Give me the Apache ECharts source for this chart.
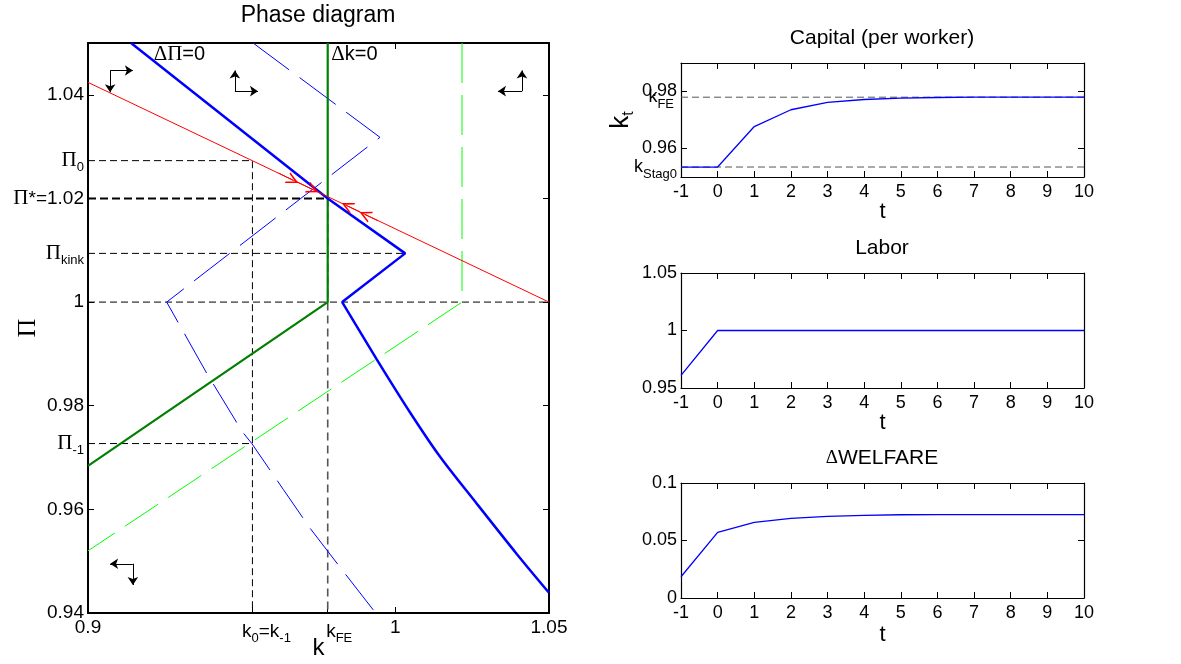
<!DOCTYPE html>
<html>
<head>
<meta charset="utf-8">
<script src="https://cdn.jsdelivr.net/npm/echarts@6/dist/echarts.min.js"></script>
<style>
  html, body { margin: 0; background: #fff; }
  #main { width: 1181px; height: 664px; }
</style>
</head>
<body>
<div id="main"></div>
<script>
// ---- phase diagram data (k, Pi) ----
const kFE = 0.978
const k0 = 0.9535
const pi0 = 1.0273
const piStar = 1.02
const piKink = 1.0094
const piM1 = 0.9727

// Delta Pi = 0: straight kinked part, then the curved lower branch
const dPiZeroUpper = [[0.914, 1.05], [0.978, 1.02], [1.0032, 1.0094], [0.9827, 1.0]]
const dPiZeroLower = [[0.9827, 1.0], [0.9939, 0.989], [1.0048, 0.9787], [1.0145, 0.9702], [1.0265, 0.9611], [1.0395, 0.9514], [1.05, 0.9439]]
const dPiZeroOld = [[0.9537, 1.05], [0.995, 1.0318], [0.9256, 1.0], [0.9386, 0.9863], [0.9502, 0.975], [0.9533, 0.9727],
  [0.9636, 0.9638], [0.9722, 0.9564], [0.9831, 0.948], [0.9936, 0.94]]
const dkZero = [[0.978, 1.05], [0.978, 1.0], [0.9, 0.9684]]
const dkZeroOld = [[1.0217, 1.05], [1.0217, 1.0], [0.9, 0.952]]
const saddle = [[0.9, 1.0424], [1.05, 1.0]]
const saddleArrows = [
  [[0.962, 1.0249], [0.9667, 1.0235]],
  [[0.968, 1.0232], [0.9732, 1.0217]],
  [[0.9885, 1.0174], [0.9843, 1.0186]],
  [[0.9943, 1.0157], [0.9901, 1.0169]],
]
const dirArrows = [
  [[0.9072, 1.0447], [0.9146, 1.0447]], [[0.9072, 1.0447], [0.9072, 1.0405]],
  [[0.9478, 1.0407], [0.9478, 1.0447]], [[0.9478, 1.0407], [0.9553, 1.0407]],
  [[1.0412, 1.0407], [1.0412, 1.0447]], [[1.0412, 1.0407], [1.0334, 1.0407]],
  [[0.9146, 0.9495], [0.9072, 0.9495]], [[0.9146, 0.9495], [0.9146, 0.9454]],
]
const curveNotes = [
  { name: '{d|Δ}{d|Π}=0', value: [0.9212, 1.0478] },
  { name: '{d|Δ}k=0', value: [0.979, 1.0478] },
]
const piTickVals = [0.94, 0.96, piM1, 0.98, 1, piKink, 1.02, pi0, 1.04]
const piTickText = ['0.94', '0.96', '{p|Π}{s|-1}', '0.98', '1', '{p|Π}{s|kink}', '{p|Π}*=1.02', '{p|Π}{s|0}', '1.04']
const kTickVals = [0.9, k0, kFE, 1, 1.05]
const kTickText = ['0.9', '{pad1|}k{s|0}=k{s|-1}', '{pad2|}k{s|FE}', '1', '1.05']

// ---- time paths ----
const t = [-1, 0, 1, 2, 3, 4, 5, 6, 7, 8, 9, 10]
const capital = [0.9535, 0.9535, 0.9677, 0.9736, 0.9762, 0.9772, 0.9777, 0.9779, 0.978, 0.978, 0.978, 0.978]
const labor = [0.961, 1, 1, 1, 1, 1, 1, 1, 1, 1, 1, 1]
const welfare = [0.0185, 0.0571, 0.0658, 0.0693, 0.071, 0.0719, 0.0724, 0.0725, 0.0725, 0.0725, 0.0725, 0.0725]
const capTickVals = [0.9535, 0.96, kFE]
const capTickText = ['k{s|Stag0}', '0.96', 'k{s|FE}{pad3|}']

const FONT = 'Liberation Sans'
const SERIF = 'Liberation Serif'
const subRich = {
  p: { fontFamily: SERIF, fontSize: 21, color: '#000' },
  d: { fontFamily: SERIF, fontSize: 21, color: '#000' },
  s: { fontFamily: FONT, fontSize: 13, color: '#000', padding: [14, 0, 0, 0] },
  pad1: { width: 28 },
  pad2: { width: 23 },
  pad3: { width: 3 },
}

const near = (a, b) => Math.abs(a - b) < 1e-7
const pick = (vals, texts) => v => {
  const i = vals.findIndex(x => near(x, v))
  return i < 0 ? '' : texts[i]
}
const pairs = ys => t.map((x, i) => [x, ys[i]])

const grids = [
  { left: 88, top: 43, width: 461, height: 570 },
  { left: 681, top: 63, width: 403, height: 114 },
  { left: 681, top: 273, width: 403, height: 115 },
  { left: 681, top: 483, width: 403, height: 115 },
].map(g => ({ ...g, containLabel: false, outerBoundsMode: 'none' }))

const frame = (w) => ({ show: true, onZero: false, lineStyle: { color: '#000', width: w } })
const inTicks = (vals, len) => ({ show: true, inside: true, length: len || 6, lineStyle: { color: '#000', width: 1 }, customValues: vals })

function axisPair(dim, gridIndex, opt) {
  const main = {
    type: 'value',
    gridIndex,
    position: dim === 'x' ? 'bottom' : 'left',
    min: opt.min,
    max: opt.max,
    interval: opt.interval,
    axisLine: frame(opt.lw),
    axisTick: inTicks(opt.ticks),
    axisLabel: {
      show: true,
      hideOverlap: false,
      color: '#000',
      fontFamily: FONT,
      fontSize: opt.fs || 18,
      margin: opt.margin || 6,
      customValues: opt.labelVals,
      formatter: opt.formatter,
      rich: subRich,
    },
    splitLine: { show: false },
    name: opt.name,
    nameLocation: 'middle',
    nameGap: opt.nameGap,
    nameMoveOverlap: false,
    nameRotate: opt.nameRotate,
    nameTextStyle: { color: '#000', fontFamily: opt.nameFont || FONT, fontSize: opt.nameSize || 22, rich: opt.nameRich },
  }
  const other = {
    type: 'value',
    gridIndex,
    position: dim === 'x' ? 'top' : 'right',
    min: opt.min,
    max: opt.max,
    interval: opt.interval,
    axisLine: frame(opt.lw),
    axisTick: inTicks(opt.ticks2 || opt.ticks),
    axisLabel: { show: false },
    splitLine: { show: false },
  }
  return [main, other]
}

const tAxis = (g, gap) => axisPair('x', g, {
  min: -1, max: 10, interval: 1, lw: 1.2,
  ticks: t, labelVals: t, formatter: v => String(v),
  name: 't', nameGap: gap, nameSize: 22,
})

const xAxis = [
  ...axisPair('x', 0, {
    min: 0.9, max: 1.05, lw: 2,
    ticks: kTickVals, ticks2: [kFE, 1],
    labelVals: kTickVals, formatter: pick(kTickVals, kTickText), fs: 19, margin: 5,
    name: 'k', nameGap: 23, nameSize: 24,
  }),
  ...tAxis(1, 24),
  ...tAxis(2, 24),
  ...tAxis(3, 26),
]

const yAxis = [
  ...axisPair('y', 0, {
    min: 0.94, max: 1.05, lw: 2,
    ticks: [0.94, 0.96, 0.98, 1, 1.02, 1.04],
    labelVals: piTickVals, formatter: pick(piTickVals, piTickText), fs: 19, margin: 4,
    name: 'Π', nameGap: 47, nameRotate: 90, nameFont: SERIF, nameSize: 26,
  }),
  ...axisPair('y', 1, {
    min: 0.95, max: 0.99, lw: 1.2,
    ticks: [0.96, 0.98],
    labelVals: capTickVals, formatter: pick(capTickVals, capTickText), fs: 18, margin: 4,
    name: '{k|k}{s|t}', nameGap: 44, nameRotate: 90,
    nameRich: { k: { fontFamily: FONT, fontSize: 26, color: '#000' }, s: { fontFamily: FONT, fontSize: 16, color: '#000', padding: [16, 0, 0, 0] } },
  }),
  ...axisPair('y', 2, {
    min: 0.95, max: 1.05, lw: 1.2,
    ticks: [1],
    labelVals: [0.95, 1, 1.05], formatter: v => String(+v.toFixed(2)), fs: 18, margin: 4,
  }),
  ...axisPair('y', 3, {
    min: 0, max: 0.1, lw: 1.2,
    ticks: [0.05],
    labelVals: [0, 0.05, 0.1], formatter: v => String(+v.toFixed(2)), fs: 18, margin: 4,
  }),
  // extra label layer: the 0.98 tick sits under the k_FE label
  {
    type: 'value', gridIndex: 1, position: 'left', min: 0.95, max: 0.99,
    axisLine: { show: false }, axisTick: { show: false }, splitLine: { show: false },
    axisLabel: { show: true, hideOverlap: false, color: '#000', fontFamily: FONT, fontSize: 18, margin: 4, customValues: [0.98], formatter: () => '0.98' },
  },
]

const line = (data, color, width, dash, xi, yi, z) => ({
  type: 'line',
  data,
  xAxisIndex: xi || 0,
  yAxisIndex: yi || 0,
  showSymbol: false,
  symbol: 'none',
  silent: true,
  z: z || 2,
  lineStyle: { color, width, type: dash || 'solid' },
})

const refDash = [7, 4]
const series = [
  line([[0.9, pi0], [k0, pi0], [k0, 0.94]], '#000', 1, refDash),
  line([[0.9, piKink], [1.0032, piKink]], '#000', 1, refDash),
  line([[0.9, 1], [1.05, 1]], '#000', 1, refDash),
  line([[0.9, piM1], [k0, piM1]], '#000', 1, refDash),
  line([[kFE, piStar], [kFE, 0.94]], '#555', 1.6, [8, 5]),
  line([[0.9, piStar], [kFE, piStar]], '#000', 2, [8, 4]),
  line(dkZeroOld, '#00ff00', 1, [40, 12], 0, 0, 3),
  line(dPiZeroOld, '#0000ff', 1, [45, 13], 0, 0, 3),
  line(dkZero, '#007f00', 2.2, 'solid', 0, 0, 4),
  line(dPiZeroUpper, '#0000ff', 2.5, 'solid', 0, 0, 5),
  { ...line(dPiZeroLower, '#0000ff', 2.5, 'solid', 0, 0, 5), smooth: 0.3 },
  line(saddle, '#ff0000', 1, 'solid', 0, 0, 6),
  {
    type: 'lines',
    coordinateSystem: 'cartesian2d',
    xAxisIndex: 0, yAxisIndex: 0,
    silent: true, z: 7,
    symbol: ['none', 'path://M0,10 L5,0 L10,10 L8.6,10 L5,3 L1.4,10 Z'],
    symbolSize: [9, 12],
    lineStyle: { color: '#ff0000', width: 1, opacity: 1 },
    data: saddleArrows.map(c => ({ coords: c })),
  },
  {
    type: 'lines',
    coordinateSystem: 'cartesian2d',
    xAxisIndex: 0, yAxisIndex: 0,
    silent: true, z: 7,
    symbol: ['none', 'arrow'],
    symbolSize: 8,
    lineStyle: { color: '#000', width: 1, opacity: 1 },
    data: dirArrows.map(c => ({ coords: c })),
  },
  {
    type: 'scatter',
    xAxisIndex: 0, yAxisIndex: 0,
    symbolSize: 1, silent: true, z: 8,
    itemStyle: { opacity: 0 },
    data: curveNotes,
    label: {
      show: true, position: 'right', distance: 0, opacity: 1,
      formatter: p => p.name, textBorderWidth: 0,
      color: '#000', fontFamily: FONT, fontSize: 20, rich: subRich,
    },
  },
  // capital
  line([[-1, kFE], [10, kFE]], '#555', 1, [7, 4], 2, 2),
  line([[-1, capital[0]], [10, capital[0]]], '#555', 1, [7, 4], 2, 2),
  line(pairs(capital), '#0000ff', 1.3, 'solid', 2, 2, 4),
  // labor
  line(pairs(labor), '#0000ff', 1.3, 'solid', 4, 4, 4),
  // welfare
  line(pairs(welfare), '#0000ff', 1.3, 'solid', 6, 6, 4),
]

const titleText = (text, x, y, size) => ({
  type: 'text', x, y,
  style: { text, x: 0, y: 0, textAlign: 'center', textVerticalAlign: 'middle', fill: '#000', font: size + 'px "' + FONT + '"' },
})

const chart = echarts.init(document.getElementById('main'))
chart.setOption({
  animation: false,
  backgroundColor: '#fff',
  grid: grids,
  xAxis,
  yAxis,
  series,
  graphic: [
    titleText('Phase diagram', 318, 16, 23),
    titleText('Capital (per worker)', 882, 38, 21),
    titleText('Labor', 882, 248, 21),
    {
      type: 'text', x: 882, y: 458,
      style: {
        text: '{d|Δ}WELFARE', textAlign: 'center', textVerticalAlign: 'middle', fill: '#000',
        font: '21px "' + FONT + '"',
        rich: { d: { fontFamily: SERIF, fontSize: 19, fill: '#000' } },
      },
    },
  ],
})
</script>
</body>
</html>
